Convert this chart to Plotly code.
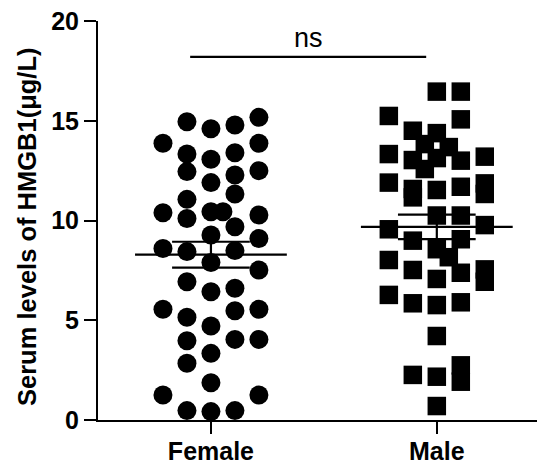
import numpy as np
import plotly.graph_objects as go

categories = ["Female", "Male"]

female_values = [15.17, 14.95, 14.6, 14.79, 13.87, 13.87, 13.33, 13.07, 13.4, 12.45, 12.5, 12.28,
                 11.9, 11.33, 11.06, 10.39, 10.1, 10.44, 10.44, 10.28, 9.69, 9.27, 9.1, 8.6,
                 8.44, 8.49, 7.89, 7.52, 6.93, 6.43, 6.6, 5.55, 5.15, 5.48, 5.55, 4.71,
                 3.97, 4.04, 4.04, 3.34, 2.84, 1.87, 1.25, 1.25, 0.47, 0.42, 0.47]
female_slot = [2, -1, 0, 1, -2, 2, -1, 0, 1, -1, 2, 1,
               0, 1, -1, -2, -1, 0, 0.5, 2, 1, 0, 2, -2,
               -1, 1, 0, 2, -1, 0, 1, -2, -1, 1, 2, 0,
               -1, 1, 2, 0, -1, 0, -2, 2, -1, 0, 1]

male_values = [16.46, 16.46, 15.24, 15.07,
               14.5, 14.38, 13.68, 13.0, 13.03, 12.58, 13.13, 13.83,
               13.33, 13.2, 11.9, 11.58, 11.16, 11.53, 11.69, 11.86, 11.33,
               10.25, 10.25, 9.56, 9.77, 8.99, 9.06, 8.56, 8.16, 7.38, 7.55, 6.93,
               8.02, 7.52, 7.07, 6.27, 5.85, 5.76, 5.9,
               4.21, 2.26, 2.17, 2.74, 1.92, 0.7]
male_slot = [0, 1, -2, 1,
             -1, 0, 0.5, 1, -1, -0.5, 0, -0.5,
             -2, 2, -2, -1, -1, 0, 1, 2, 2,
             0, 1, -2, 2, -1, 1, 0, 0.5, 1, 2, 2,
             -2, -1, 0, -2, -1, 0, 1,
             0, -1, 0, 1, 1, 0]

y_ticks = [0, 5, 10, 15, 20]
y_title = "Serum levels of HMGB1(μg/L)"
sig_label = "ns"
sig_y = 18.2

SLOT = 0.1062
MEAN_HALF = 0.336
SEM_HALF = 0.172
FONT = "Liberation Sans, Arial, sans-serif"

fig = go.Figure()

groups = [(female_values, female_slot, "circle", 19), (male_values, male_slot, "square", 18.5)]
for i, (vals, slots, sym, msize) in enumerate(groups):
    v = np.array(vals)
    m = v.mean()
    sem = v.std(ddof=1) / np.sqrt(len(v))
    fig.add_trace(go.Scatter(x=[i - MEAN_HALF, i + MEAN_HALF], y=[m, m], mode="lines",
                             line=dict(color="black", width=2.2), showlegend=False, hoverinfo="skip"))
    fig.add_trace(go.Scatter(x=[i - SEM_HALF, i + SEM_HALF, None, i - SEM_HALF, i + SEM_HALF, None, i, i],
                             y=[m + sem, m + sem, None, m - sem, m - sem, None, m - sem, m + sem],
                             mode="lines", line=dict(color="black", width=2.2),
                             showlegend=False, hoverinfo="skip"))
    fig.add_trace(go.Scatter(x=[i + s * SLOT for s in slots], y=vals, mode="markers",
                             marker=dict(symbol=sym, size=msize, color="black",
                                         line=dict(width=0)),
                             cliponaxis=False, showlegend=False, name=categories[i]))

fig.add_shape(type="line", xref="x", yref="y", x0=-0.092, x1=0.953, y0=sig_y, y1=sig_y,
              line=dict(color="black", width=2.2))
fig.add_annotation(x=0.43, y=19.15, xref="x", yref="y", text=sig_label, showarrow=False,
                   font=dict(family=FONT, size=27, color="black"), yanchor="middle")

fig.add_annotation(x=-0.159, y=0.486, xref="paper", yref="paper", text="<b>" + y_title + "</b>",
                   textangle=-90, showarrow=False, xanchor="center", yanchor="middle",
                   font=dict(family=FONT, size=25.5, color="black"))

# the page body has an 8px default margin, so the figure is sized to fit inside it
fig.update_layout(
    width=537, height=456,
    margin=dict(l=90, r=0, t=13, b=44, autoexpand=False),
    paper_bgcolor="white", plot_bgcolor="white",
    font=dict(family=FONT, color="black"),
    xaxis=dict(range=[-0.5, 1.479], tickmode="array", tickvals=[0, 1],
               ticktext=["<b>" + c + "</b>" for c in categories],
               showline=True, linecolor="black", linewidth=2, ticks="outside",
               ticklen=12, tickwidth=2, tickcolor="black", showgrid=False, zeroline=False,
               automargin=False, ticklabelstandoff=-4, ticklabeloverflow="allow",
               tickfont=dict(family=FONT, size=25, color="black")),
    yaxis=dict(range=[0, 20], tickmode="array", tickvals=y_ticks,
               ticktext=["<b>%d</b>" % t for t in y_ticks],
               showline=True, linecolor="black", linewidth=2, ticks="outside",
               ticklen=12, tickwidth=2, tickcolor="black", showgrid=False, zeroline=False,
               automargin=False, ticklabeloverflow="allow",
               tickfont=dict(family=FONT, size=25, color="black")),
)

fig.write_html("out.html")
